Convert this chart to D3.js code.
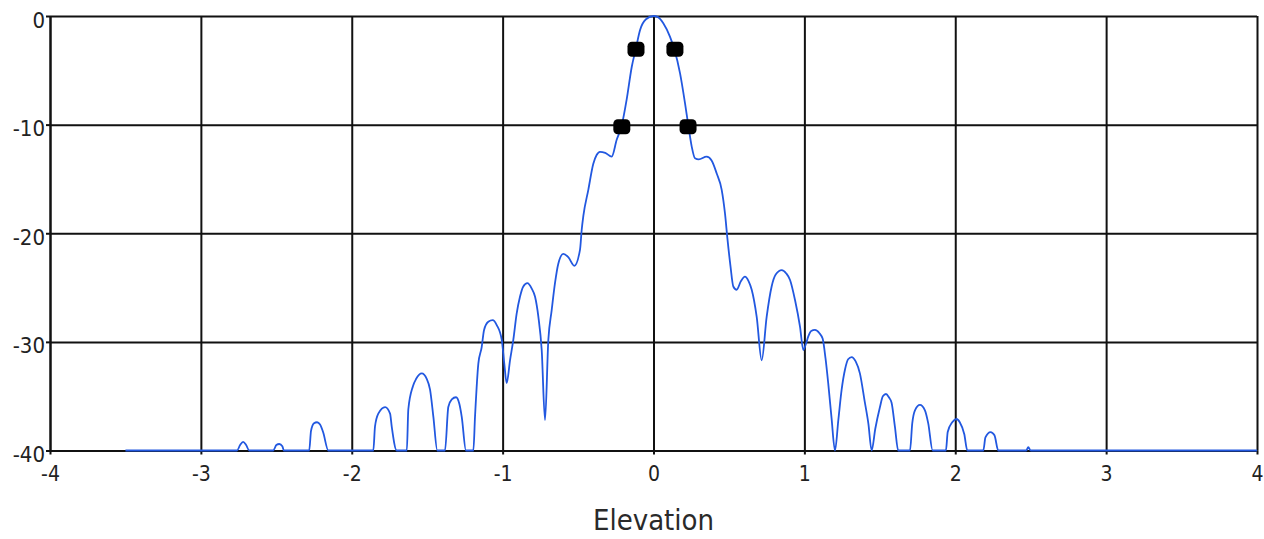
<!DOCTYPE html>
<meta charset="utf-8">
<script src="https://d3js.org/d3.v7.js"></script>
<style>
  body { margin: 0; background: #fff; }
  text { font-family: "DejaVu Sans Condensed", "DejaVu Sans", sans-serif; fill: #222; }
</style>
<div id="chart"></div>
<script>

// elevation angle and pattern gain (dB)
const elevX = [
  -3.5, -2.77, -2.76, -2.74, -2.72, -2.70, -2.68,
  -2.52, -2.50, -2.48, -2.46, -2.45,
  -2.282, -2.27, -2.25, -2.23, -2.21, -2.19, -2.155,
  -1.857, -1.846, -1.824, -1.779, -1.746, -1.735, -1.702,
  -1.635, -1.625, -1.595, -1.573, -1.536, -1.503, -1.481, -1.459, -1.433,
  -1.382, -1.36, -1.337, -1.309, -1.287, -1.271, -1.243,
  -1.194, -1.183, -1.161, -1.139, -1.123, -1.095, -1.066, -1.039, -1.006, -0.989, -0.973,
  -0.951, -0.929, -0.907, -0.885, -0.863, -0.836, -0.807, -0.785, -0.763, -0.741, -0.719,
  -0.697, -0.675, -0.653, -0.631, -0.598, -0.565, -0.525, -0.487, -0.476, -0.465,
  -0.432, -0.399, -0.377, -0.355, -0.32, -0.277, -0.244, -0.211, -0.178, -0.144, -0.118, -0.089, -0.05,
  0, 0.03, 0.065, 0.109, 0.138, 0.176, 0.209, 0.231, 0.253, 0.275, 0.30, 0.352, 0.385, 0.419, 0.452, 0.474,
  0.49, 0.51, 0.529, 0.551, 0.58, 0.606, 0.63, 0.651, 0.684, 0.717, 0.75, 0.783, 0.81, 0.85, 0.88, 0.905,
  0.938, 0.971, 0.993, 1.01, 1.026, 1.045, 1.07, 1.10, 1.121, 1.14, 1.158, 1.18, 1.203,
  1.225, 1.247, 1.27, 1.29, 1.313, 1.34, 1.368, 1.40, 1.424, 1.446,
  1.47, 1.501, 1.52, 1.541, 1.56, 1.578, 1.60, 1.622,
  1.70, 1.715, 1.733, 1.766, 1.799, 1.821, 1.85,
  1.938, 1.95, 1.98, 2.009, 2.03, 2.06, 2.08,
  2.186, 2.20, 2.234, 2.26, 2.285,
  2.47, 2.484, 2.50, 4
];
const gainDb = [
  -40, -40, -40, -39.5, -39.2, -39.5, -40,
  -40, -39.5, -39.4, -39.6, -40,
  -40, -38.2, -37.5, -37.4, -37.6, -38.3, -40,
  -40, -37.8, -36.6, -36.0, -36.6, -37.8, -40,
  -40, -36.2, -34.1, -33.4, -32.9, -33.4, -34.4, -36.9, -40,
  -40, -36.0, -35.3, -35.1, -35.7, -36.9, -40,
  -40, -36.9, -32.0, -30.5, -28.9, -28.15, -28.0, -28.45, -29.8, -32.0, -33.8,
  -31.7, -29.8, -27.4, -25.85, -24.9, -24.6, -25.1, -25.85, -27.7, -30.75, -37.2,
  -29.8, -27.1, -24.6, -22.8, -21.9, -22.2, -23.0, -21.5, -19.7, -18.4,
  -16.0, -13.6, -12.8, -12.5, -12.6, -12.95, -11.4, -10.1, -7.7, -4.67, -3.07, -1.29, -0.3,
  0, -0.1, -0.67, -1.9, -3.07, -5.28, -8.04, -10.1, -12.0, -13.1, -13.2, -12.95, -13.3, -14.5, -16.0, -18.2,
  -20.5, -23.0, -24.9, -25.2, -24.4, -24.0, -24.4, -25.2, -27.7, -31.7, -27.7, -24.9, -23.8, -23.4, -23.7, -24.3,
  -26.15, -28.6, -30.75, -30.2, -29.5, -29.0, -28.9, -29.2, -29.7, -31.5, -33.8, -37.0, -40,
  -37.2, -34.4, -32.5, -31.6, -31.4, -31.8, -32.9, -35.5, -37.5, -40,
  -38.0, -36.0, -35.0, -34.8, -35.1, -35.6, -37.8, -40,
  -40, -37.5, -36.3, -35.8, -36.3, -37.5, -40,
  -40, -38.3, -37.4, -37.1, -37.4, -38.5, -40,
  -40, -38.8, -38.3, -38.6, -40,
  -40, -39.7, -40, -40
];

// -3 dB and -10 dB points
const markerX = [-0.116, 0.142, -0.21, 0.229];
const markerY = [-3.06, -3.06, -10.2, -10.2];

const xTicks = [-4, -3, -2, -1, 0, 1, 2, 3, 4];
const yTicks = [0, -10, -20, -30, -40];

const margin = {top: 16, right: 7, bottom: 88.5, left: 50},
    width = 1264 - margin.left - margin.right,
    height = 539 - margin.top - margin.bottom;

const svg = d3.select("#chart")
  .append("svg")
    .attr("width", 1264)
    .attr("height", 539)
  .append("g")
    .attr("transform", `translate(${margin.left},${margin.top})`);

const x = d3.scaleLinear().domain([-4, 4]).range([0, width]);
const y = d3.scaleLinear().domain([-40, 0]).range([height, 0]);

// grid
svg.append("g")
  .call(d3.axisBottom(x).tickValues(xTicks).tickSize(height).tickFormat(""))
  .call(g => g.select(".domain").remove())
  .selectAll("line").attr("stroke", "#111").attr("stroke-width", 2);

svg.append("g")
  .call(d3.axisRight(y).tickValues(yTicks).tickSize(width).tickFormat(""))
  .call(g => g.select(".domain").remove())
  .selectAll("line").attr("stroke", "#111").attr("stroke-width", 2);

// axes with labels (plain hyphen for the minus sign)
const yAxis = svg.append("g")
  .call(d3.axisLeft(y).tickValues(yTicks).tickFormat(d => String(d))
    .tickSize(4).tickPadding(1).tickSizeOuter(0));
yAxis.selectAll("line").attr("stroke", "#111").attr("stroke-width", 2);
yAxis.select(".domain").attr("stroke", "#111").attr("stroke-width", 2);
yAxis.selectAll("text")
  .attr("dy", "0.5em")
  .style("font-size", "22px")
  .style("fill", "#222");

const xAxis = svg.append("g")
  .attr("transform", `translate(0,${height})`)
  .call(d3.axisBottom(x).tickValues(xTicks).tickFormat(d => String(d))
    .tickSize(4).tickPadding(12).tickSizeOuter(0));
xAxis.selectAll("line").attr("stroke", "#111").attr("stroke-width", 2);
xAxis.select(".domain").attr("stroke", "#111").attr("stroke-width", 2);
xAxis.selectAll("text")
  .style("font-size", "21px")
  .style("fill", "#222");

svg.append("text")
  .attr("x", x(0))
  .attr("y", height + 79.5)
  .attr("text-anchor", "middle")
  .style("font-size", "29px")
  .style("fill", "#2a2a2a")
  .text("Elevation");

// pattern
const points = elevX.map((e, i) => [e, gainDb[i]]);
const line = d3.line()
  .x(d => x(d[0]))
  .y(d => y(d[1]))
  .curve(d3.curveMonotoneX);

svg.append("path")
  .datum(points)
  .attr("fill", "none")
  .attr("stroke", "#2258e0")
  .attr("stroke-width", 1.8)
  .attr("stroke-linejoin", "round")
  .attr("d", line);

// markers
svg.selectAll(".marker")
  .data(markerX.map((m, i) => [m, markerY[i]]))
  .join("rect")
    .attr("class", "marker")
    .attr("x", d => x(d[0]) - 8.5)
    .attr("y", d => y(d[1]) - 7.5)
    .attr("width", 17)
    .attr("height", 15)
    .attr("rx", 4.5)
    .attr("fill", "#000");

</script>
